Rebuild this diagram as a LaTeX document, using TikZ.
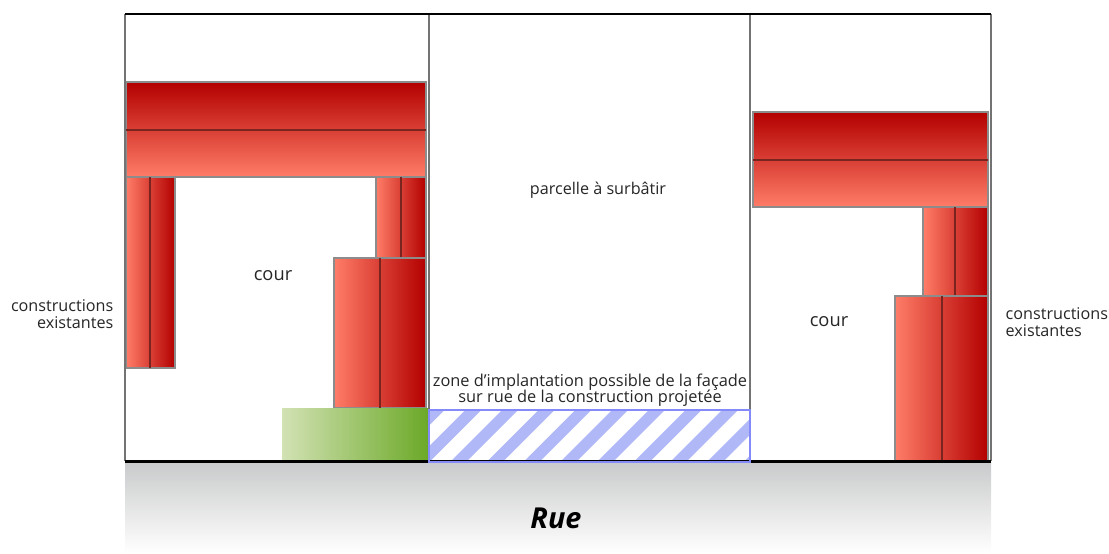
\documentclass[tikz,border=0pt]{standalone}
\usepackage{fontspec}
\setmainfont{Open Sans}
\setlength{\lineskiplimit}{-5pt}
\setlength{\normallineskiplimit}{-5pt}
\definecolor{brickdark}{HTML}{B30000}
\definecolor{bricklight}{HTML}{FF7D68}
\definecolor{brickline}{HTML}{7A2420}
\definecolor{edgegrey}{HTML}{8C8C8C}
\definecolor{hatchblue}{HTML}{B0B8F8}
\definecolor{greendark}{HTML}{6CA928}
\definecolor{greenlight}{HTML}{D2E2B4}
\definecolor{ruegrey}{HTML}{C9CACB}
\tikzset{
  barh/.style={draw=edgegrey,line width=.4pt,top color=brickdark,bottom color=bricklight},
  barv/.style={draw=edgegrey,line width=.4pt,left color=bricklight,right color=brickdark},
  split/.style={draw=brickline,line width=.5pt},
  wall/.style={draw=black!55,line width=.55pt},
  lbl/.style={font=\fontsize{4.6pt}{4.8pt}\selectfont,inner sep=0pt,text=black!85}
}
\begin{document}
\begin{tikzpicture}[x=0.01cm,y=-0.01cm]
    \useasboundingbox (0,0) rectangle (1109,553);
    % rue
    \shade[top color=ruegrey,bottom color=white] (125,462) rectangle (991,553);
    % left building
    \path[barh] (126,82) rectangle (426,177);
    \path[split] (126,130) -- (426,130);
    \path[barv] (126,177) rectangle (175,368);
    \path[split] (150,177) -- (150,368);
    \path[barv] (376,177) rectangle (426,258);
    \path[split] (401,177) -- (401,258);
    \path[barv] (334,258) rectangle (426,408);
    \path[split] (380,258) -- (380,408);
    % right building
    \path[barh] (753,112) rectangle (988,207);
    \path[split] (753,160) -- (988,160);
    \path[barv] (923,207) rectangle (988,296);
    \path[split] (955,207) -- (955,296);
    \path[barv] (895,296) rectangle (988,461);
    \path[split] (942,296) -- (942,461);
    % green zone
    \shade[left color=greenlight,right color=greendark] (282,408) rectangle (428,461);
    % hatched zone
    \begin{scope}
      \clip (429,410) rectangle (750,462);
      \foreach \s in {-2,...,8}
        \fill[hatchblue] (450+36.7*\s,462) -- (466+36.7*\s,462) -- (518+36.7*\s,410) -- (502+36.7*\s,410) -- cycle;
    \end{scope}
    % frame
    \draw[wall] (125,461) -- (125,14);
    \draw[wall] (429,14) -- (429,461);
    \draw[wall] (750,14) -- (750,461);
    \draw[wall] (991,14) -- (991,461);
    \draw[black,line width=.45pt] (125,14) -- (991,14);
    \draw[black,line width=.6pt] (125,461.5) -- (991,461.5);
    \draw[hatchblue!75!blue,line width=.4pt] (429,410) rectangle (750,462);
    % labels
    \node[lbl,align=right,anchor=east] (A0_0) at (114,314) {constructions\\existantes};
    \node[lbl,align=left,anchor=west] (A0_1) at (1005,322) {constructions\\existantes};
    \node[lbl] (A1_0) at (273,276) {\fontsize{5.2pt}{5.2pt}\selectfont cour};
    \node[lbl] (A1_1) at (829,321.5) {\fontsize{5.2pt}{5.2pt}\selectfont cour};
    \node[lbl] (A2_0) at (598,190.5) {parcelle à surbâtir};
    \node[lbl,font=\fontsize{4.65pt}{4.4pt}\selectfont,align=center] (A2_1) at (590,390) {zone d’implantation possible de la façade\\sur rue de la construction projetée};
    \node[inner sep=0pt,font=\fontsize{8.2pt}{8.2pt}\selectfont\bfseries\itshape] (A3_0) at (556,518) {Rue};
  \end{tikzpicture}
\end{document}
